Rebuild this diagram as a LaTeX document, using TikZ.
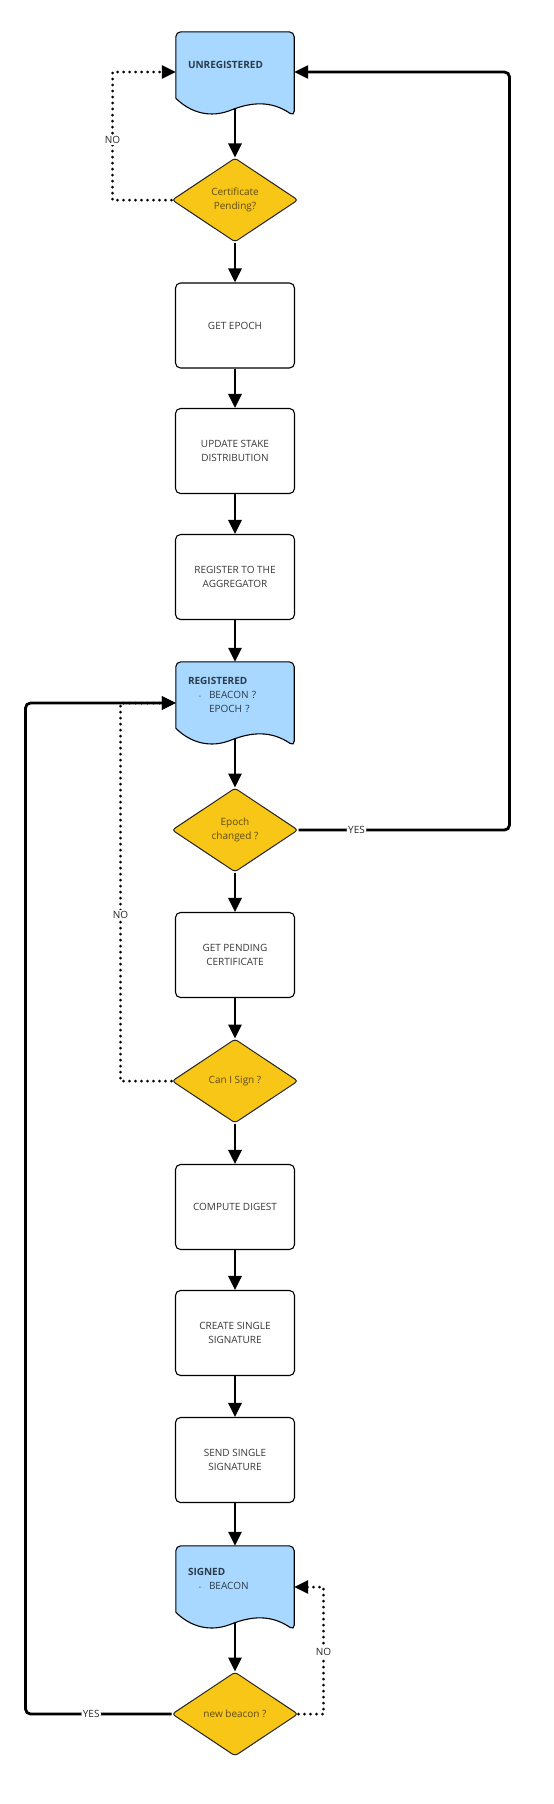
\documentclass[tikz,border=0pt]{standalone}
\usepackage{fontspec}
\setmainfont{Open Sans}
\usetikzlibrary{shapes.geometric,arrows.meta,calc,backgrounds}

\definecolor{docblue}{HTML}{A8D8FF}
\definecolor{dyellow}{HTML}{F8C616}
\definecolor{dtext}{HTML}{5E4A12}
\definecolor{btext}{HTML}{383838}
\definecolor{doctext}{HTML}{2B3B4B}

% wavy document shape drawn round a (invisible) doc node
\newcommand{\docshape}[1]{%
  \filldraw[fill=docblue,draw=black,line width=1.1pt]
    (#1.south west) [rounded corners=5pt] -- (#1.north west) -- (#1.north east)
    -- ($(#1.south east)+(0,18)$) [sharp corners]
    .. controls ($(#1.south west)+(95,2)$) and ($(#1.south west)+(75,4)$) .. ($(#1.south west)+(55,12)$)
    .. controls ($(#1.south west)+(35,20)$) and ($(#1.south west)+(15,15)$) .. cycle;}

\begin{document}
\begin{tikzpicture}[x=1pt,y=-1pt]
		\tikzset{stepbox/.style={rectangle,rounded corners=5pt,draw=black,line width=1.1pt,fill=white,
				minimum width=119pt,minimum height=85pt,align=center,text=btext,
				font=\fontsize{10}{14}\selectfont}};
		\tikzset{decision/.style={diamond,aspect=1.5,inner sep=0pt,minimum width=126pt,minimum height=84pt,
				fill=dyellow,draw=black!85,line width=1pt,rounded corners=3pt,align=center,text=dtext,
				font=\fontsize{10}{14}\selectfont}};
		\tikzset{docnode/.style={rectangle,inner sep=0pt,minimum width=118pt,minimum height=66pt,
				text width=94pt,align=left,text=doctext,font=\fontsize{10}{14}\selectfont}};
		\tikzset{flow/.style={line width=2.8pt,rounded corners=5pt,-{Triangle[length=14pt,width=13pt]}}};
		\tikzset{noflow/.style={line width=3pt,line cap=round,dash pattern=on 0pt off 6pt,
				-{Triangle[length=14pt,width=13pt]}}};
		\tikzset{lbl/.style={fill=white,inner sep=1.5pt,text=black!85,font=\fontsize{10}{11}\selectfont}};
		
		\useasboundingbox (0,0) rectangle (554,1804);
		
		\node[docnode] (unreg) at (235,65) {\textbf{UNREGISTERED}};
		\node[docnode] (reg) at (235,695) {\textbf{REGISTERED}\\
			\hspace*{11pt}\makebox[10pt][l]{\tiny\textbullet}BEACON ?\\
			\hspace*{21pt}EPOCH ?};
		\node[docnode] (signed) at (235,1579) {\textbf{SIGNED}\\
			\hspace*{11pt}\makebox[10pt][l]{\tiny\textbullet}BEACON};
		
		\foreach \n/\y/\t in {getepoch/325.5/{GET EPOCH},stake/451/{UPDATE STAKE\\DISTRIBUTION},
			register/577/{REGISTER TO THE\\AGGREGATOR},pending/955/{GET PENDING\\CERTIFICATE},
			digest/1207/{COMPUTE DIGEST},single/1333/{CREATE SINGLE\\SIGNATURE},
			send/1460/{SEND SINGLE\\SIGNATURE}}
		\node[stepbox] (\n) at (235,\y) {\t};
		
		\node[decision] (cert) at (235,200) {Certificate\\Pending?};
		\node[decision] (epochq) at (235,830) {Epoch\\changed ?};
		\node[decision] (sign) at (235,1081) {Can I Sign ?};
		\node[decision] (beacon) at (235,1714) {new beacon ?};
		
		\begin{scope}[on background layer]
		\foreach \a/\b in {unreg/cert,cert/getepoch,getepoch/stake,stake/register,register/reg,
			reg/epochq,epochq/pending,pending/sign,sign/digest,digest/single,single/send,
			send/signed,signed/beacon}
		\draw[flow] (\a) -- (\b);
		
		% loops
		\draw[noflow] (cert.west) -- ++(-59,0) -- ++(0,-128) node[lbl,pos=0.47]{NO} -- ([yshift=-7pt]unreg.west);
		\draw[flow] (epochq.east) -- ++(211,0) node[lbl,pos=0.275]{YES} |- ([yshift=-7pt]unreg.east);
		\draw[noflow] (sign.west) -- ++(-51,0) -- ++(0,-378) node[lbl,pos=0.44]{NO} -- ([yshift=-8pt]reg.west);
		\draw[flow] (beacon.west) -- ++(-146,0) node[lbl,pos=0.55]{YES} |- ([yshift=-8pt]reg.west);
		\draw[noflow] (beacon.east) -- ++(25,0) -- ++(0,-127) node[lbl,pos=0.49]{NO} -- ([yshift=-8pt]signed.east);
		
		\docshape{unreg}
		\docshape{reg}
		\docshape{signed}
		\end{scope}
\end{tikzpicture}
\end{document}
